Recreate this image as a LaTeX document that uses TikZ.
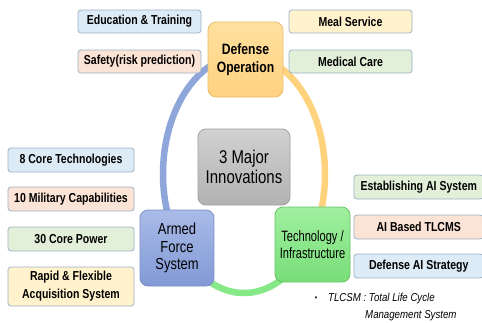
\documentclass[tikz,border=0pt]{standalone}
\usepackage{fontspec}
\setmainfont{Liberation Sans}
\newfontfamily\boxfont[FakeStretch=0.81]{Liberation Sans}
\newfontfamily\techfont[FakeStretch=0.74]{Liberation Sans}
\newfontfamily\notefont[FakeStretch=0.84]{Liberation Sans}

\definecolor{fillblue}{HTML}{DDEBF7}
\definecolor{fillpeach}{HTML}{FBE3D5}
\definecolor{fillgreen}{HTML}{E2F0D9}
\definecolor{fillyellow}{HTML}{FFF2CC}
\definecolor{boxline}{HTML}{9DB2C8}
\definecolor{ringblue}{HTML}{8EA6DA}
\definecolor{ringorange}{HTML}{FFD27D}
\definecolor{ringgreen}{HTML}{86E886}
\definecolor{opline}{HTML}{E8BE6E}

\tikzset{
  itembox/.style={draw=boxline, line width=0.8pt, rounded corners=3pt,
    minimum width=123pt, minimum height=23pt, inner sep=0pt,
    font=\boxfont\bfseries\fontsize{13}{18}\selectfont, align=center},
  leftbox/.style={itembox, minimum width=126pt, minimum height=24pt},
  rightbox/.style={itembox, minimum width=129.5pt, minimum height=24pt},
  hub/.style={line width=0.8pt, rounded corners=8pt, inner sep=0pt,
    minimum width=75pt, minimum height=75pt, align=center},
  ring/.style={line width=6.5pt},
  note/.style={font=\notefont\itshape\fontsize{11.5}{13}\selectfont, inner sep=0pt, anchor=base west}
}

\begin{document}
\begin{tikzpicture}[x=1pt,y=-1pt]
\useasboundingbox (0,0) rectangle (482,322);
\clip (0,0) rectangle (482,322);
\fill[white] (0,0) rectangle (482,322);

% the ring, split in three coloured arcs
\draw[ring, ringblue]   plot[domain=90:226, samples=80]  ({244+81*cos(\x)}, {174-119*sin(\x)});
\draw[ring, ringorange] plot[domain=-42:90, samples=80] ({244+81*cos(\x)}, {174-119*sin(\x)});
\draw[ring, ringgreen]  plot[domain=224:320, samples=60] ({244+81*cos(\x)}, {174-119*sin(\x)});

% central and hub nodes
\node[hub, minimum width=92pt, minimum height=76pt, draw=black!38,
      top color=black!18, bottom color=black!30,
      font=\boxfont\fontsize{18.5}{20.5}\selectfont]
  (major) at (244,167) {3 Major\\Innovations};
\node[hub, draw=opline, top color={rgb,255:red,255;green,224;blue,158},
      bottom color={rgb,255:red,255;green,210;blue,128},
      font=\boxfont\bfseries\fontsize{15}{18}\selectfont]
  (defop) at (245.5,59.5) {Defense\\Operation};
\node[hub, minimum width=74pt, minimum height=76pt, draw={rgb,255:red,124;green,144;blue,196},
      top color={rgb,255:red,169;green,187;blue,232}, bottom color={rgb,255:red,129;green,153;blue,213},
      font=\boxfont\fontsize{16}{17.5}\selectfont]
  (armed) at (177,248) {Armed\\Force\\System};
\node[hub, draw={rgb,255:red,102;green,196;blue,102},
      top color={rgb,255:red,160;green,239;blue,160}, bottom color={rgb,255:red,120;green,222;blue,120},
      font=\techfont\fontsize{15}{17}\selectfont]
  (tech) at (312.5,244.5) {Technology /\\Infrastructure};

% items of Defense Operation
\node[itembox, fill=fillblue]   (edu)    at (139.5,21.5) {Education \& Training};
\node[itembox, fill=fillpeach]  (safety) at (139.5,61.5) {Safety(risk prediction)};
\node[itembox, fill=fillyellow] (meal)   at (350.5,21.5) {Meal Service};
\node[itembox, fill=fillgreen]  (med)    at (350.5,61.5) {Medical Care};

% items of Armed Force System
\node[leftbox, fill=fillblue]   (core8)  at (71,160) {8 Core Technologies};
\node[leftbox, fill=fillpeach]  (mil10)  at (71,199) {10 Military Capabilities};
\node[leftbox, fill=fillgreen]  (core30) at (71,239) {30 Core Power};
\node[leftbox, fill=fillyellow, minimum height=39pt] (rapid) at (71,286.5) {Rapid \& Flexible\\Acquisition System};

% items of Technology / Infrastructure
\node[rightbox, fill=fillgreen] (estab)  at (418.75,187) {Establishing AI System};
\node[rightbox, fill=fillpeach] (tlcms)  at (418.75,227) {AI Based TLCMS};
\node[rightbox, fill=fillblue]  (defai)  at (418.75,266) {Defense AI Strategy};

% footnote
\node[font=\notefont\fontsize{8}{10}\selectfont, inner sep=0pt, anchor=base] (bullet) at (316,300.5) {\textbullet};
\node[note] (note1) at (328,301.7) {TLCSM : Total Life Cycle};
\node[note] (note2) at (365,318) {Management System};
\end{tikzpicture}
\end{document}
